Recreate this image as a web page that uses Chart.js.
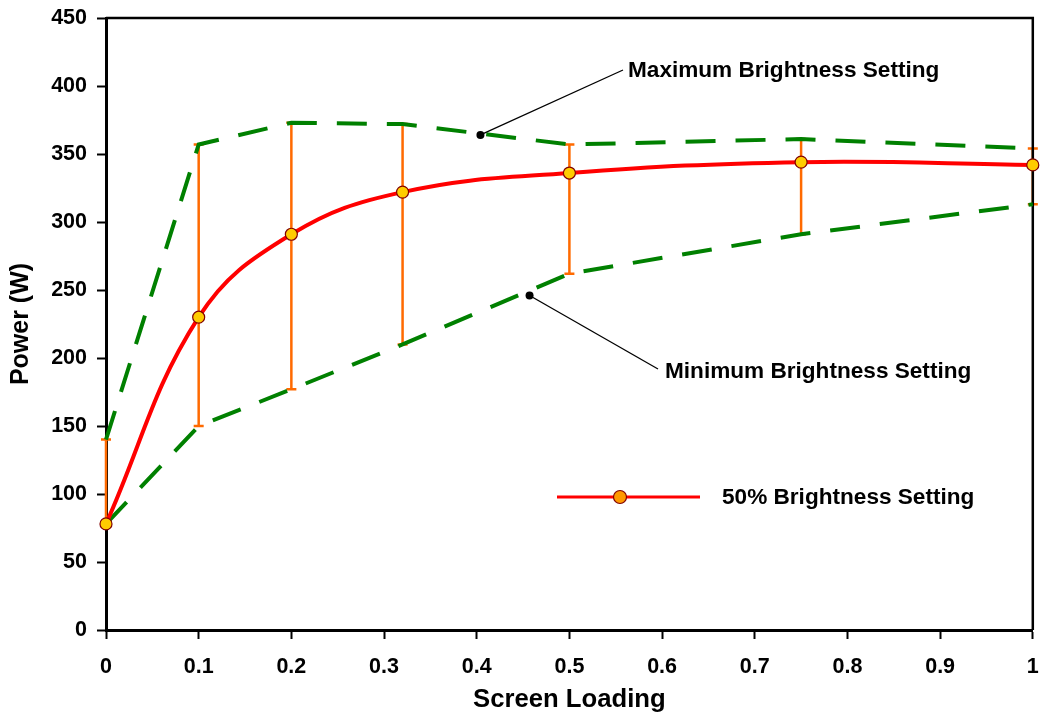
<!DOCTYPE html>
<html>
<head>
<meta charset="utf-8">
<title>Power vs Screen Loading</title>
<script src="https://cdn.jsdelivr.net/npm/chart.js@4.4.1/dist/chart.umd.min.js"></script>
<style>
  html, body { margin: 0; padding: 0; background: #fff; }
  #powerChart { display: block; }
</style>
</head>
<body>
<canvas id="powerChart" width="1040" height="715"></canvas>
<script>
// measured power (W) against screen loading
const loadLevels = [0, 0.1, 0.2, 0.32, 0.5, 0.75, 1];
const halfBrightness = [78, 230, 291, 322, 336, 344, 342];
const maxBrightness = [140, 357, 373, 372, 357, 361, 354];
const minBrightness = [78, 150, 177, 210, 262, 291, 313];

const xTicks = [0, 0.1, 0.2, 0.3, 0.4, 0.5, 0.6, 0.7, 0.8, 0.9, 1];
const yTicks = [0, 50, 100, 150, 200, 250, 300, 350, 400, 450];

const seriesLabel = '50% Brightness Setting';
const maxLabel = 'Maximum Brightness Setting';
const minLabel = 'Minimum Brightness Setting';
// points on the dashed lines that the callouts point at
const maxCalloutAt = [0.404, 364];
const minCalloutAt = [0.457, 246];

const FONT = '"Liberation Sans", Arial, Helvetica, sans-serif';
Chart.defaults.font.family = FONT;
Chart.defaults.color = '#000';

const toXY = (xs, ys) => xs.map((x, i) => ({ x: x, y: ys[i] }));

// orange min/max bars behind the lines
const errorBars = {
    id: 'errorBars',
    beforeDatasetsDraw(chart) {
        const { ctx, scales: { x, y } } = chart;
        ctx.save();
        ctx.strokeStyle = '#FF6A00';
        ctx.lineWidth = 2.5;
        loadLevels.forEach((v, i) => {
            const px = x.getPixelForValue(v);
            const top = y.getPixelForValue(maxBrightness[i]);
            const bot = y.getPixelForValue(minBrightness[i]);
            ctx.beginPath();
            ctx.moveTo(px, top);
            ctx.lineTo(px, bot);
            ctx.moveTo(px - 5, top);
            ctx.lineTo(px + 5, top);
            ctx.moveTo(px - 5, bot);
            ctx.lineTo(px + 5, bot);
            ctx.stroke();
        });
        ctx.restore();
    }
};

// top and right edges of the plot box
const plotFrame = {
    id: 'plotFrame',
    beforeDatasetsDraw(chart) {
        const { ctx, chartArea: a } = chart;
        ctx.save();
        ctx.strokeStyle = '#000';
        ctx.lineWidth = 2.5;
        ctx.beginPath();
        ctx.moveTo(a.left, a.top);
        ctx.lineTo(a.right, a.top);
        ctx.lineTo(a.right, a.bottom);
        ctx.stroke();
        ctx.restore();
    }
};

// callout labels and the inline legend
const notes = {
    id: 'notes',
    afterDatasetsDraw(chart) {
        const { ctx, scales: { x, y } } = chart;
        ctx.save();
        ctx.font = 'bold 22.6px ' + FONT;
        ctx.textBaseline = 'middle';
        ctx.textAlign = 'left';
        ctx.fillStyle = '#000';
        ctx.strokeStyle = '#000';
        ctx.lineWidth = 1.3;

        const callout = (at, endX, endY, text, textX, textY) => {
            const px = x.getPixelForValue(at[0]);
            const py = y.getPixelForValue(at[1]);
            ctx.beginPath();
            ctx.moveTo(px, py);
            ctx.lineTo(endX, endY);
            ctx.stroke();
            ctx.beginPath();
            ctx.arc(px, py, 4, 0, Math.PI * 2);
            ctx.fill();
            ctx.fillText(text, textX, textY);
        };
        callout(maxCalloutAt, 623, 70, maxLabel, 628, 71);
        callout(minCalloutAt, 658, 369, minLabel, 665, 372);

        // legend entry
        ctx.strokeStyle = '#FF0000';
        ctx.lineWidth = 3;
        ctx.beginPath();
        ctx.moveTo(557, 497);
        ctx.lineTo(700, 497);
        ctx.stroke();
        ctx.beginPath();
        ctx.arc(620, 497, 6.5, 0, Math.PI * 2);
        ctx.fillStyle = '#FF9900';
        ctx.fill();
        ctx.strokeStyle = '#800000';
        ctx.lineWidth = 1.2;
        ctx.stroke();
        ctx.fillStyle = '#000';
        ctx.fillText(seriesLabel, 722, 498);
        ctx.restore();
    }
};

new Chart(document.getElementById('powerChart').getContext('2d'), {
    type: 'scatter',
    data: {
        datasets: [{
            label: seriesLabel,
            data: toXY(loadLevels, halfBrightness),
            showLine: true,
            borderColor: '#FF0000',
            borderWidth: 4,
            tension: 0.4,
            pointRadius: 6,
            pointBackgroundColor: '#FFCC00',
            pointBorderColor: '#800000',
            pointBorderWidth: 1.2,
            clip: false
        }, {
            label: maxLabel,
            data: toXY(loadLevels, maxBrightness),
            showLine: true,
            borderColor: '#008000',
            borderWidth: 4,
            borderDash: [30, 20],
            pointRadius: 0,
            clip: false
        }, {
            label: minLabel,
            data: toXY(loadLevels, minBrightness),
            showLine: true,
            borderColor: '#008000',
            borderWidth: 4,
            borderDash: [30, 20],
            pointRadius: 0,
            clip: false
        }]
    },
    options: {
        responsive: false,
        animation: false,
        events: [],
        layout: { padding: { top: 18, right: 6, left: 0, bottom: 0 } },
        plugins: {
            legend: { display: false },
            tooltip: { enabled: false }
        },
        scales: {
            x: {
                type: 'linear',
                min: 0,
                max: 1,
                afterBuildTicks: s => { s.ticks = xTicks.map(v => ({ value: v })); },
                afterFit: s => {
                    s.height = 85;
                    s.paddingLeft = 0;
                    s.paddingRight = 0;
                },
                grid: { drawOnChartArea: false, drawTicks: true, tickLength: 9, tickColor: '#000', tickWidth: 2 },
                border: { display: true, color: '#000', width: 3 },
                ticks: {
                    font: { size: 21.5, weight: 'bold' },
                    padding: 15,
                    maxRotation: 0,
                    autoSkip: false,
                    callback: v => String(v)
                },
                title: {
                    display: true,
                    text: 'Screen Loading',
                    font: { size: 25.7, weight: 'bold' },
                    padding: { top: 0, bottom: 0 }
                }
            },
            y: {
                type: 'linear',
                min: 0,
                max: 450,
                afterBuildTicks: s => { s.ticks = yTicks.map(v => ({ value: v })); },
                afterFit: s => {
                    s.width = 106;
                    s.paddingTop = 0;
                    s.paddingBottom = 0;
                },
                grid: { drawOnChartArea: false, drawTicks: true, tickLength: 9, tickColor: '#000', tickWidth: 2 },
                border: { display: true, color: '#000', width: 3 },
                ticks: {
                    font: { size: 21.5, weight: 'bold' },
                    padding: 10,
                    callback: v => String(v)
                },
                title: {
                    display: true,
                    text: 'Power (W)',
                    font: { size: 25, weight: 'bold' },
                    padding: { top: 6, bottom: 0 }
                }
            }
        }
    },
    plugins: [errorBars, plotFrame, notes]
});
</script>
</body>
</html>
